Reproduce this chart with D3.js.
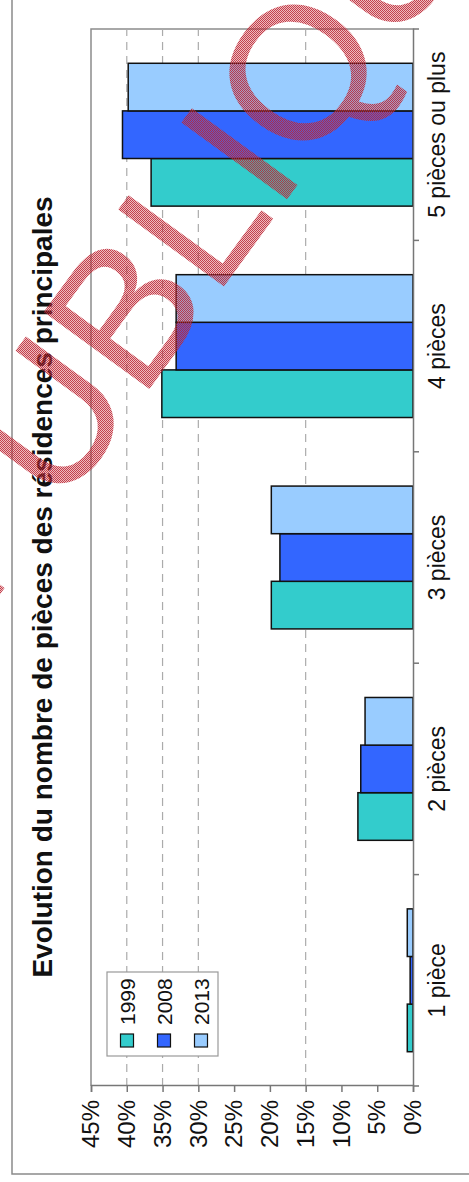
<!DOCTYPE html>
<html>
<head>
<meta charset="utf-8">
<script src="https://cdn.jsdelivr.net/npm/d3@7/dist/d3.min.js"></script>
<style>
  html, body { margin: 0; padding: 0; background: #fff; }
  svg { display: block; font-family: "Liberation Sans", Arial, sans-serif; }
</style>
</head>
<body>
<script>
// Share of main residences by number of rooms (%)
const categories = ["1 pièce", "2 pièces", "3 pièces", "4 pièces", "5 pièces ou plus"];
const years = ["1999", "2008", "2013"];
const values1999 = [0.8, 7.7, 19.8, 35.1, 36.6];
const values2008 = [0.4, 7.3, 18.6, 33.1, 40.6];
const values2013 = [0.8, 6.7, 19.8, 33.1, 39.8];
const valueTicks = [0, 5, 10, 15, 20, 25, 30, 35, 40, 45];
const gridValues = [15, 30, 35, 40];
const colors = ["#33CCCC", "#3366FF", "#99CCFF"];
const chartTitle = "Evolution du nombre de pièces des résidences principales";

const W = 469, H = 1182;
const svg = d3.select("body").append("svg").attr("width", W).attr("height", H);

// outer frame (cropped on top and right)
svg.append("path")
  .attr("d", `M12,0 V1174 H${W}`)
  .attr("fill", "none").attr("stroke", "#8a8a8a").attr("stroke-width", 1.5);

// The chart is laid out as a column chart and turned a quarter turn.
const g = svg.append("g").attr("transform", `translate(0,${H}) rotate(-90)`);

const plotLeft = 96, plotRight = 1153, plotTop = 91, plotBottom = 413;

const x0 = d3.scaleBand().domain(categories).range([plotLeft, plotRight]).padding(0);
const x1 = d3.scaleBand().domain(years).range([0, x0.bandwidth()]).paddingInner(0).paddingOuter(0.72);
const y = d3.scaleLinear().domain([0, 45]).range([plotBottom, plotTop]);
const color = d3.scaleOrdinal().domain(years).range(colors);

const series = [values1999, values2008, values2013];
const rows = categories.map((c, i) => ({ cat: c, vals: years.map((yr, k) => ({ yr, v: series[k][i] })) }));

// plot area frame (top / far side)
g.append("path")
  .attr("d", `M${plotLeft},${plotTop} H${plotRight} V${plotBottom}`)
  .attr("fill", "none").attr("stroke", "#8c8c8c").attr("stroke-width", 1.5);

// dashed gridlines
g.append("g").selectAll("line").data(gridValues).join("line")
  .attr("x1", plotLeft).attr("x2", plotRight)
  .attr("y1", d => y(d)).attr("y2", d => y(d))
  .attr("stroke", "#ababab").attr("stroke-width", 1.2).attr("stroke-dasharray", "8,6");

// bars
g.append("g").selectAll("g").data(rows).join("g")
  .attr("transform", d => `translate(${x0(d.cat)},0)`)
  .selectAll("rect").data(d => d.vals).join("rect")
  .attr("x", d => x1(d.yr))
  .attr("width", x1.bandwidth())
  .attr("y", d => y(d.v))
  .attr("height", d => y(0) - y(d.v))
  .attr("fill", d => color(d.yr))
  .attr("stroke", "#111").attr("stroke-width", 1.5);

// value axis
const yAxis = g.append("g").attr("transform", `translate(${plotLeft},0)`)
  .call(d3.axisLeft(y).tickValues(valueTicks).tickFormat(d => d + "%").tickSize(6).tickPadding(8));
yAxis.select(".domain").attr("stroke", "#777").attr("stroke-width", 1.5);
yAxis.selectAll(".tick line").attr("stroke", "#777").attr("stroke-width", 1.5);
yAxis.selectAll("text").attr("font-size", 24).attr("fill", "#111")
  .attr("font-family", "'Liberation Sans', Arial, sans-serif");

// category axis
const xAxis = g.append("g").attr("transform", `translate(0,${plotBottom})`)
  .call(d3.axisBottom(x0).tickSize(0).tickPadding(16));
xAxis.select(".domain").attr("stroke", "#777").attr("stroke-width", 1.5);
xAxis.selectAll("text").attr("font-size", 23).attr("fill", "#111")
  .attr("font-family", "'Liberation Sans', Arial, sans-serif");
// category separators
g.append("g").selectAll("line").data([...categories.map(c => x0(c)), plotRight]).join("line")
  .attr("x1", d => d).attr("x2", d => d)
  .attr("y1", plotBottom).attr("y2", plotBottom + 6)
  .attr("stroke", "#777").attr("stroke-width", 1.5);

// title
g.append("text")
  .attr("x", 595).attr("y", 52)
  .attr("text-anchor", "middle")
  .attr("font-size", 28).attr("font-weight", "bold").attr("fill", "#111")
  .text(chartTitle);

// legend
const lg = g.append("g");
lg.append("rect")
  .attr("x", 126).attr("y", 107).attr("width", 84).attr("height", 111)
  .attr("fill", "#fff").attr("stroke", "#999").attr("stroke-width", 1.2);
const items = lg.selectAll("g.item").data(years).join("g").attr("class", "item")
  .attr("transform", (d, i) => `translate(0,${127 + i * 37})`);
items.append("rect")
  .attr("x", 135).attr("y", -6.5).attr("width", 13).attr("height", 13)
  .attr("fill", d => color(d)).attr("stroke", "#111").attr("stroke-width", 1.2);
items.append("text")
  .attr("x", 157).attr("y", 0).attr("dy", "0.36em")
  .attr("font-size", 21).attr("fill", "#111")
  .text(d => d);

// red stamp across the chart
const defs = svg.append("defs");
const pat = defs.append("pattern").attr("id", "hatch")
  .attr("patternUnits", "userSpaceOnUse").attr("width", 2).attr("height", 2)
  .attr("patternTransform", "rotate(54)");
pat.append("rect").attr("width", 2).attr("height", 2).attr("fill", "rgba(205,60,70,0.35)");
pat.append("rect").attr("width", 1).attr("height", 1).attr("fill", "rgba(185,35,50,0.8)");
pat.append("rect").attr("x", 1).attr("y", 1).attr("width", 1).attr("height", 1).attr("fill", "rgba(185,35,50,0.8)");

svg.append("text")
  .attr("transform", "translate(-15,615) rotate(-54)")
  .attr("font-size", 190)
  .attr("fill", "url(#hatch)")
  .text("PUBLIQUE");
</script>
</body>
</html>
